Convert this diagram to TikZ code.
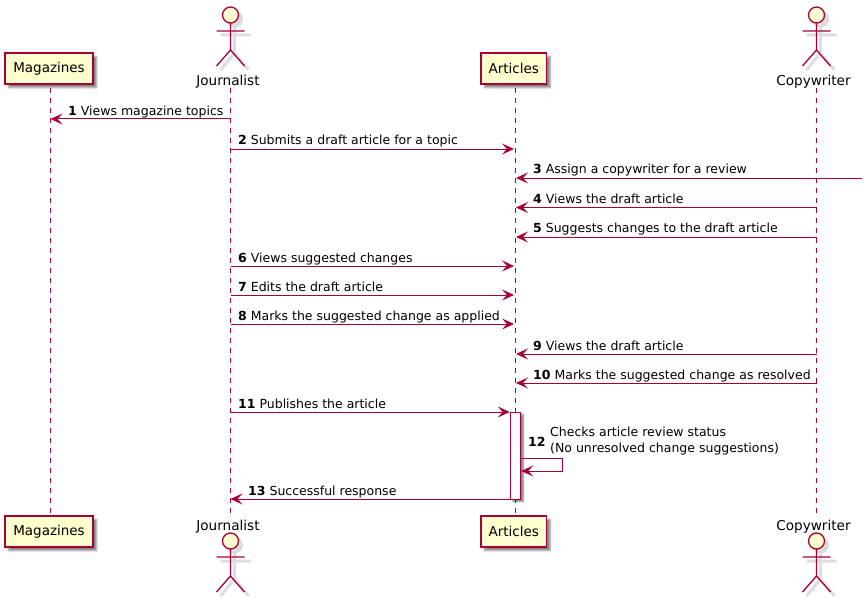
\documentclass[tikz,border=0pt]{standalone}
\usepackage{fontspec}
\setmainfont{DejaVu Sans}
\usetikzlibrary{arrows.meta,shadows.blur}

\definecolor{umlred}{HTML}{A80036}
\definecolor{umlfill}{HTML}{FEFECE}

\tikzset{
    part/.style={draw=umlred, line width=1.2pt, fill=umlfill, minimum height=31pt, inner sep=0pt,
        font=\fontsize{13.5}{16}\selectfont, blur shadow={shadow xshift=3.5pt, shadow yshift=-3.5pt, shadow blur radius=2pt, shadow opacity=50}},
    actorname/.style={anchor=base, font=\fontsize{13.6}{16}\selectfont, inner sep=0pt},
    limb/.style={draw=umlred, line width=1.3pt},
    limbshadow/.style={draw=black!13, line width=3pt},
    lifeline/.style={draw=umlred, line width=0.9pt, dash pattern=on 5pt off 5pt},
    msg/.style={draw=umlred, line width=1pt, -{Stealth[length=12pt, width=11pt, inset=5pt]}},
    msgtext/.style={anchor=base west, inner sep=0pt, align=left, font=\fontsize{12.5}{15}\selectfont},
}

% Stick figure: x of the centre, y of the head
\newcommand{\stickman}[2]{
    \fill[black!14] (#1+4,#2+4) circle (8.5);
    \draw[limbshadow] (#1+4,#2+8) -- (#1+4,#2+38) (#1-10,#2+20) -- (#1+20,#2+20)
        (#1+4,#2+38) -- (#1-10,#2+55) (#1+4,#2+38) -- (#1+18,#2+55);
    \draw[limb, fill=umlfill] (#1,#2) circle (8);
    \draw[limb] (#1,#2+8) -- (#1,#2+35) (#1-14,#2+16) -- (#1+14,#2+16)
        (#1,#2+35) -- (#1-14,#2+51) (#1,#2+35) -- (#1+14,#2+51);
}

\begin{document}
\begin{tikzpicture}[x=1pt, y=-1pt]
    \useasboundingbox (0,0) rectangle (867,599);

    % Lifelines
    \coordinate (magazinesA) at (50.5,88);
    \coordinate (magazinesB) at (50.5,514);
    \coordinate (journalistA) at (230.5,88);
    \coordinate (journalistB) at (230.5,514);
    \coordinate (articlesA) at (515.5,88);
    \coordinate (articlesB) at (515.5,514);
    \coordinate (copywriterA) at (816.5,88);
    \coordinate (copywriterB) at (816.5,514);
    \draw[lifeline] (magazinesA) -- (magazinesB);
    \draw[lifeline] (journalistA) -- (journalistB);
    \draw[lifeline] (articlesA) -- (articlesB);
    \draw[lifeline] (copywriterA) -- (copywriterB);

    % Top row
    \node[part, minimum width=88pt] (magazinesTop) at (49,68.5) {Magazines};
    \stickman{230.5}{15}
    \node[actorname] (journalistTop) at (228,86) {Journalist};
    \node[part, minimum width=65.5pt] (articlesTop) at (513.8,68.5) {Articles};
    \stickman{816.5}{15}
    \node[actorname] (copywriterTop) at (813.5,86) {Copywriter};

    % Bottom row
    \node[part, minimum width=88pt] (magazinesBottom) at (49,531.5) {Magazines};
    \node[actorname] (journalistBottom) at (228,530.5) {Journalist};
    \stickman{230.5}{541}
    \node[part, minimum width=65.5pt] (articlesBottom) at (513.8,531.5) {Articles};
    \node[actorname] (copywriterBottom) at (813.5,530.5) {Copywriter};
    \stickman{816.5}{541}

    % Activation bar
    \node[draw=umlred, line width=0.9pt, fill=white, minimum width=10.5pt, minimum height=87pt, inner sep=0pt,
        blur shadow={shadow xshift=2.5pt, shadow yshift=-2.5pt, shadow blur radius=1.5pt, shadow opacity=50}] (activeBar) at (515.5,455.5) {};

    % Message heights on each lifeline
    \foreach \n/\h in {1/119,2/149,3/178,4/207.5,5/237,6/266,7/295,8/324,9/354,10/383} {
        \coordinate (mag\n) at (50.5,\h);
        \coordinate (jou\n) at (230.5,\h);
        \coordinate (artL\n) at (514,\h);
        \coordinate (artR\n) at (516,\h);
        \coordinate (cop\n) at (816.5,\h);
    }
    \coordinate (outside3) at (862,178);
    \coordinate (jou11) at (230.5,412);
    \coordinate (jou13) at (230.5,499);
    \coordinate (selfOut) at (activeBar.east |- 0,458);
    \coordinate (selfOutB) at (562.5,458);
    \coordinate (selfBackB) at (562.5,471);
    \coordinate (selfBack) at (activeBar.east |- 0,471);

    % Messages
    \draw[msg] (jou1) -- (mag1);
    \draw[msg] (jou2) -- (artL2);
    \draw[msg] (outside3) -- (artR3);
    \draw[msg] (cop4) -- (artR4);
    \draw[msg] (cop5) -- (artR5);
    \draw[msg] (jou6) -- (artL6);
    \draw[msg] (jou7) -- (artL7);
    \draw[msg] (jou8) -- (artL8);
    \draw[msg] (cop9) -- (artR9);
    \draw[msg] (cop10) -- (artR10);
    \draw[msg] (jou11) -- (activeBar.west |- jou11);
    \draw[msg] (selfOut) -- (selfOutB) -- (selfBackB) -- (selfBack);
    \draw[msg] (activeBar.west |- jou13) -- (jou13);

    % Message labels
    \node[msgtext] (text1) at (68,115.5) {\textbf{1} Views magazine topics};
    \node[msgtext] (text2) at (238,145) {\textbf{2} Submits a draft article for a topic};
    \node[msgtext] (text3) at (533,173.5) {\textbf{3} Assign a copywriter for a review};
    \node[msgtext] (text4) at (533,203) {\textbf{4} Views the draft article};
    \node[msgtext] (text5) at (533,232.5) {\textbf{5} Suggests changes to the draft article};
    \node[msgtext] (text6) at (238,262) {\textbf{6} Views suggested changes};
    \node[msgtext] (text7) at (238,291) {\textbf{7} Edits the draft article};
    \node[msgtext] (text8) at (238,320) {\textbf{8} Marks the suggested change as applied};
    \node[msgtext] (text9) at (533,350.5) {\textbf{9} Views the draft article};
    \node[msgtext] (text10) at (533,379.5) {\textbf{10} Marks the suggested change as resolved};
    \node[msgtext] (text11) at (238,408.5) {\textbf{11} Publishes the article};
    \node[msgtext] (num12) at (528,446) {\textbf{12}};
    \node[msgtext, anchor=north west, font=\fontsize{12.5}{16}\selectfont] (text12) at (550,427) {Checks article review status\\(No unresolved change suggestions)};
    \node[msgtext] (text13) at (248,495) {\textbf{13} Successful response};
\end{tikzpicture}
\end{document}
